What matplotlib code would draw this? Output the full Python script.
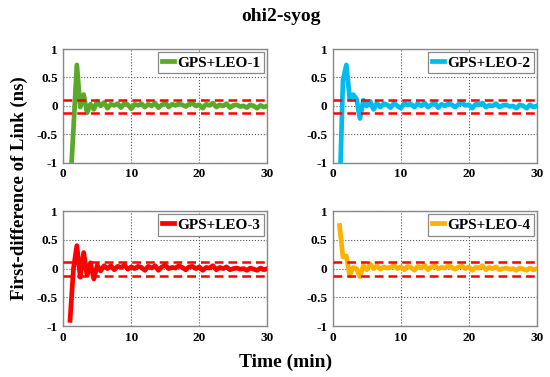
import numpy as np
import matplotlib
matplotlib.use('Agg')
from matplotlib import pyplot as plt

# Epochs (min), one every 30 s
time_min = np.arange(1, 30.01, 0.5)

leo1 = [-1.5, -0.4, 0.72, -0.02, 0.2, -0.12, 0.03, -0.06, 0.08, 0.0,
        0.06, -0.04, 0.03, 0.01, 0.04, -0.03, 0.05, 0.02, -0.05, 0.03,
        0.01, 0.04, -0.02, 0.03, 0.0, 0.05, -0.03, 0.02, 0.06, -0.02,
        0.03, 0.01, 0.04, 0.02, -0.01, 0.03, 0.05, 0.0, 0.02, -0.04,
        0.03, 0.01, 0.05, -0.02, 0.02, 0.0, 0.04, -0.03, 0.01, 0.02,
        -0.01, 0.0, -0.03, 0.02, 0.0, -0.04, 0.01, -0.02, 0.0]
leo2 = [-1.6, 0.45, 0.72, 0.12, 0.2, 0.12, -0.22, 0.1, 0.0, 0.08,
        -0.06, 0.05, -0.02, 0.04, 0.02, -0.03, 0.05, 0.0, -0.04, 0.04,
        0.02, 0.03, -0.02, 0.04, 0.0, 0.05, -0.02, 0.02, 0.06, -0.03,
        0.03, 0.0, 0.04, 0.02, -0.02, 0.03, 0.05, 0.01, 0.02, -0.04,
        0.03, 0.02, 0.05, -0.02, 0.01, 0.0, 0.04, -0.02, 0.01, 0.02,
        -0.01, 0.0, -0.04, 0.02, 0.0, -0.04, 0.02, -0.02, 0.0]
leo3 = [-0.9, 0.0, 0.4, -0.15, 0.28, -0.12, 0.1, -0.18, 0.06, -0.04,
        0.05, 0.0, 0.05, -0.02, 0.04, 0.02, 0.06, -0.01, 0.03, 0.0,
        0.04, 0.02, -0.03, 0.04, 0.01, 0.05, -0.03, 0.03, 0.06, 0.0,
        0.02, 0.01, 0.05, 0.02, -0.02, 0.03, 0.04, 0.0, 0.03, -0.03,
        0.02, 0.01, 0.05, -0.02, 0.02, 0.0, 0.03, -0.02, 0.0, 0.01,
        -0.01, 0.0, -0.03, 0.01, -0.01, -0.03, 0.01, -0.02, 0.0]
leo4 = [0.75, 0.2, 0.22, -0.12, 0.02, 0.0, -0.14, 0.05, -0.02, 0.08,
        0.0, 0.05, -0.01, 0.03, 0.01, 0.02, 0.06, 0.0, 0.03, -0.02,
        0.04, 0.02, -0.03, 0.04, 0.01, 0.06, -0.02, 0.03, 0.05, 0.0,
        0.02, 0.01, 0.05, 0.02, -0.01, 0.03, 0.04, 0.0, 0.03, -0.03,
        0.02, 0.01, 0.05, -0.02, 0.02, 0.0, 0.03, -0.02, 0.0, 0.01,
        -0.01, 0.0, -0.03, 0.01, -0.01, -0.03, 0.01, -0.02, 0.0]

series = [leo1, leo2, leo3, leo4]
labels = ['GPS+LEO-1', 'GPS+LEO-2', 'GPS+LEO-3', 'GPS+LEO-4']
colors = ['#5aa92a', '#00bbee', '#ff0000', '#ffb000']
thresholds = [0.11, -0.12]
x_ticks = [0, 10, 20, 30]
y_ticks = [-1, -0.5, 0, 0.5, 1]
y_tick_labels = ['-1', '-0.5', '0', '0.5', '1']

plt.rcParams['font.family'] = ['Liberation Serif', 'DejaVu Serif']
plt.rcParams['font.weight'] = 'bold'

fig = plt.figure(figsize=(5.5, 3.77), dpi=100)

# Axes positions (left, bottom, width, height) in figure fractions
positions = [
    [0.115, 0.568, 0.371, 0.302],
    [0.605, 0.568, 0.371, 0.302],
    [0.115, 0.135, 0.371, 0.305],
    [0.605, 0.135, 0.371, 0.305],
]

for pos, values, label, color in zip(positions, series, labels, colors):
    ax = fig.add_axes(pos)
    ax.plot(time_min, values, color=color, linewidth=3.4, label=label, zorder=3)
    for t in thresholds:
        ax.axhline(t, color='red', linestyle=(0, (3.5, 2)), linewidth=1.8, zorder=4)
    ax.set_xlim(0, 30)
    ax.set_ylim(-1, 1)
    ax.set_xticks(x_ticks)
    ax.set_yticks(y_ticks)
    ax.set_yticklabels(y_tick_labels)
    ax.grid(True, linestyle=':', color='#555555', linewidth=0.8)
    ax.tick_params(direction='in', length=0, labelsize=9.5, pad=4)
    for lab in ax.get_xticklabels() + ax.get_yticklabels():
        lab.set_fontweight('bold')
    for sp in ax.spines.values():
        sp.set_color('#888888')
        sp.set_linewidth(1.0)
    leg = ax.legend(loc='upper right', handlelength=0.8, handletextpad=0.2,
                    borderpad=0.25, borderaxespad=0.2, fancybox=False,
                    framealpha=1, prop={'weight': 'bold', 'size': 11})
    leg.get_frame().set_edgecolor('#888888')
    leg.get_frame().set_linewidth(0.9)

fig.text(0.51, 0.955, 'ohi2-syog', ha='center', va='center', fontsize=14, fontweight='bold')
fig.text(0.52, 0.04, 'Time (min)', ha='center', va='center', fontsize=14, fontweight='bold')
fig.text(0.035, 0.5, 'First-difference of Link (ns)', ha='center', va='center',
         rotation=90, fontsize=13.5, fontweight='bold')

fig.savefig('out.png', dpi=100)
